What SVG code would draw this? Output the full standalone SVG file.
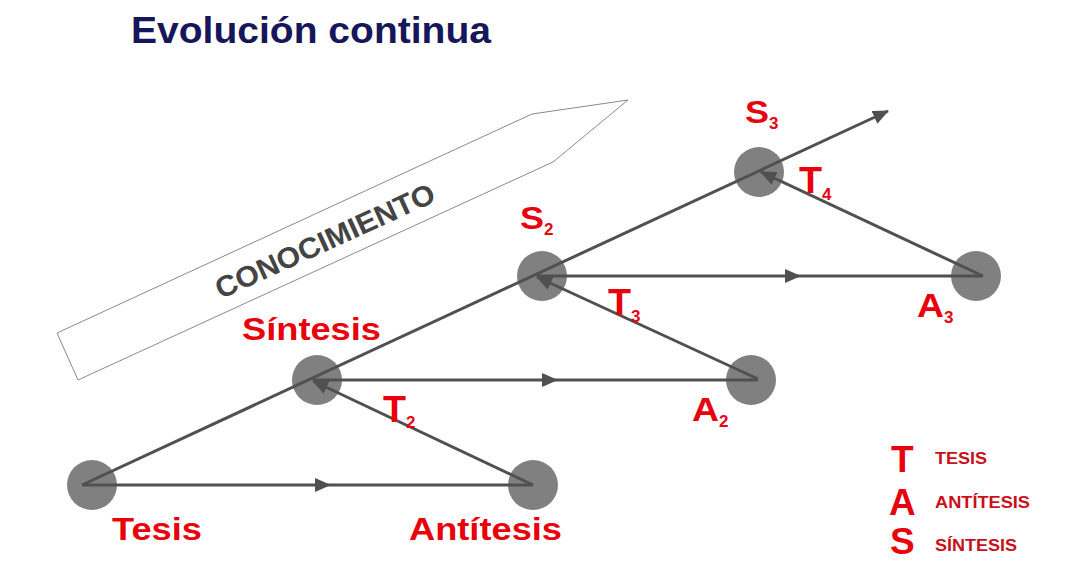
<svg xmlns="http://www.w3.org/2000/svg" width="1067" height="581" viewBox="0 0 1067 581">
<style>
.node{fill:#808080}
.lbl{font-family:"Liberation Sans",Arial,sans-serif;font-weight:bold;fill:#e8000c}
.sub{font-family:"Liberation Sans",Arial,sans-serif;font-weight:bold;fill:#e8000c;font-size:17px}
.con{stroke:#505050;stroke-width:3;fill:none}
.leg{font-family:"Liberation Sans",Arial,sans-serif;font-weight:bold;fill:#c8101c;font-size:16px}
</style>
<defs>
<marker id="ah" markerUnits="userSpaceOnUse" markerWidth="16" markerHeight="14" viewBox="0 0 16 14" refX="15" refY="7" orient="auto">
<path d="M0,0 L16,7 L0,14 z" fill="#505050"/>
</marker>
</defs>
<rect width="1067" height="581" fill="#ffffff"/>
<text id="title" x="131" y="43" font-family="'Liberation Sans',Arial,sans-serif" font-weight="bold" font-size="36" fill="#16165a" textLength="360" lengthAdjust="spacingAndGlyphs">Evolución continua</text>
<g id="conocimiento">
<polygon points="57,333 78,380 553,162 628,100 532,114" fill="#ffffff" stroke="#8a8a8a" stroke-width="1"/>
<text transform="translate(329,250) rotate(-24.5)" x="0" y="0" text-anchor="middle" font-family="'Liberation Sans',Arial,sans-serif" font-weight="bold" font-size="29" fill="#444444" textLength="238" lengthAdjust="spacingAndGlyphs">CONOCIMIENTO</text>
</g>
<g id="tesis">
<circle class="node" cx="92" cy="485" r="25"/>
<text class="lbl" x="112" y="540" font-size="32" textLength="90" lengthAdjust="spacingAndGlyphs">Tesis</text>
</g>
<g id="antitesis">
<circle class="node" cx="533" cy="485" r="25"/>
<text class="lbl" x="409" y="540" font-size="32" textLength="153" lengthAdjust="spacingAndGlyphs">Antítesis</text>
</g>
<g id="sintesis">
<circle class="node" cx="317" cy="380" r="25"/>
<text class="lbl" x="242" y="340" font-size="31" textLength="139" lengthAdjust="spacingAndGlyphs">Síntesis</text>
</g>
<g id="a2">
<circle class="node" cx="751" cy="380" r="25"/>
<text class="lbl" x="692" y="421" font-size="33" textLength="27" lengthAdjust="spacingAndGlyphs">A</text>
<text class="sub" x="719" y="427">2</text>
</g>
<g id="s2">
<circle class="node" cx="542" cy="276" r="25"/>
<text class="lbl" x="520" y="229" font-size="32" textLength="24" lengthAdjust="spacingAndGlyphs">S</text>
<text class="sub" x="544" y="235">2</text>
</g>
<g id="a3">
<circle class="node" cx="976" cy="276" r="25"/>
<text class="lbl" x="917" y="317" font-size="33" textLength="27" lengthAdjust="spacingAndGlyphs">A</text>
<text class="sub" x="944" y="323">3</text>
</g>
<g id="s3">
<circle class="node" cx="759" cy="172" r="25"/>
<text class="lbl" x="745" y="123" font-size="32" textLength="24" lengthAdjust="spacingAndGlyphs">S</text>
<text class="sub" x="769" y="129">3</text>
</g>
<g id="connectors">
<path class="con" d="M82,485 L888,111" marker-end="url(#ah)"/>
<path class="con" d="M82,485 L330,485 L533,485" marker-mid="url(#ah)"/>
<path class="con" d="M533,485 L313,381" marker-end="url(#ah)"/>
<path class="con" d="M313,380 L557,380 L758,380" marker-mid="url(#ah)"/>
<path class="con" d="M758,379 L537,277" marker-end="url(#ah)"/>
<path class="con" d="M537,276 L800,276 L983,276" marker-mid="url(#ah)"/>
<path class="con" d="M983,276 L761,172" marker-end="url(#ah)"/>
<text class="lbl" x="383" y="422" font-size="37" textLength="23" lengthAdjust="spacingAndGlyphs">T</text>
<text class="sub" x="406" y="428">2</text>
<text class="lbl" x="608" y="315" font-size="37" textLength="23" lengthAdjust="spacingAndGlyphs">T</text>
<text class="sub" x="631" y="322">3</text>
<text class="lbl" x="799" y="193" font-size="37" textLength="23" lengthAdjust="spacingAndGlyphs">T</text>
<text class="sub" x="822" y="200">4</text>
</g>
<g id="legend">
<text class="lbl" x="891" y="472" font-size="37">T</text>
<text class="lbl" x="889" y="515" font-size="37">A</text>
<text class="lbl" x="890" y="554" font-size="37">S</text>
<text class="leg" x="935" y="464" textLength="52" lengthAdjust="spacingAndGlyphs">TESIS</text>
<text class="leg" x="935" y="508" textLength="95" lengthAdjust="spacingAndGlyphs">ANTÍTESIS</text>
<text class="leg" x="935" y="551" textLength="82" lengthAdjust="spacingAndGlyphs">SÍNTESIS</text>
</g>
</svg>
